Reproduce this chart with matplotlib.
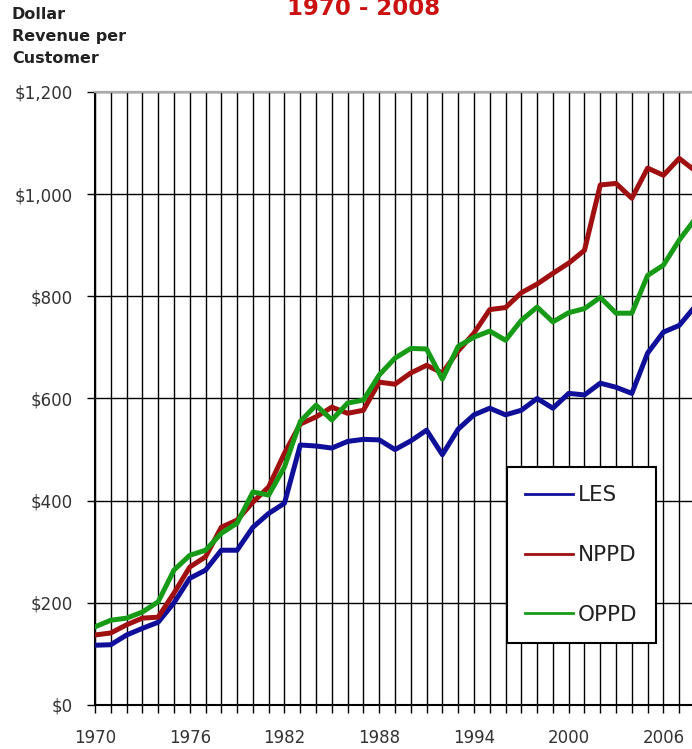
import numpy as np
import matplotlib
matplotlib.use("Agg")
import matplotlib.pyplot as plt
from matplotlib.ticker import FuncFormatter

# revenue per customer
years = list(range(1970, 2009))
les = [117, 118, 137, 150, 162, 200, 248, 264, 303, 303,
       348, 375, 395, 509, 507, 503, 516, 520, 519, 500,
       517, 538, 490, 540, 568, 581, 568, 577, 600, 581,
       610, 607, 630, 622, 610, 689, 730, 743, 780]
nppd = [137, 141, 157, 170, 172, 219, 270, 290, 348, 362,
        397, 427, 493, 550, 564, 583, 571, 577, 632, 628,
        650, 665, 650, 693, 728, 774, 778, 807, 824, 845,
        865, 890, 1018, 1021, 992, 1051, 1037, 1070, 1046]
oppd = [153, 166, 170, 182, 202, 264, 293, 303, 336, 356,
        417, 411, 466, 555, 587, 558, 591, 597, 646, 679,
        698, 697, 638, 702, 720, 732, 714, 753, 779, 750,
        768, 776, 798, 767, 767, 841, 861, 910, 951]
series_names = ["LES", "NPPD", "OPPD"]
series_colors = ["#0f0f9a", "#a01010", "#179b17"]
y_ticks = [0, 200, 400, 600, 800, 1000, 1200]

W, H = 692, 749
fig = plt.figure(figsize=(W / 100, H / 100), dpi=100)
# axes run a bit past the right edge, the reference is cropped there
ax = fig.add_axes([95 / W, 44 / H, 600 / W, 613 / H])

for vals, name, col in zip([les, nppd, oppd], series_names, series_colors):
    ax.plot(years, vals, color=col, lw=3.6, label=name, solid_joinstyle="round", zorder=3)

ax.set_xlim(1970, 2008)
ax.set_ylim(0, 1200)
ax.set_xticks(years)
ax.set_xticklabels([str(y) if (y - 1970) % 6 == 0 else "" for y in years])
ax.set_yticks(y_ticks)
ax.yaxis.set_major_formatter(FuncFormatter(lambda v, p: "${:,.0f}".format(v)))

ax.grid(True, color="black", lw=1.0)
ax.tick_params(axis="x", direction="out", length=6, width=1.0, pad=11,
               labelsize=12, labelcolor="#333333")
ax.tick_params(axis="y", direction="out", length=6, width=1.0, pad=10,
               labelsize=12, labelcolor="#333333")
for s in ["left", "bottom"]:
    ax.spines[s].set_linewidth(1.5)
ax.spines["top"].set_color("#aaaaaa")
ax.spines["top"].set_linewidth(1.6)

leg = ax.legend(loc="upper left", bbox_to_anchor=(507 / W, 1 - 467 / H),
                bbox_transform=fig.transFigure, borderaxespad=0,
                fontsize=15.5, handlelength=2.2, handletextpad=0.25,
                labelspacing=1.85, borderpad=0.85, fancybox=False,
                framealpha=1, edgecolor="black", labelcolor="#222222")
leg.get_frame().set_linewidth(1.5)
for ln in leg.get_lines():
    ln.set_linewidth(2)

fig.text(12 / W, 1 - 7 / H, "Dollar\nRevenue per\nCustomer", ha="left", va="top",
         fontsize=11.5, fontweight="bold", color="#222222", linespacing=1.6)
fig.text(364 / W, 1 - 15 / H, "1970 - 2008", ha="center", va="baseline",
         fontsize=16.5, fontweight="bold", color="#cc1111")

fig.savefig("out.png", dpi=100)
